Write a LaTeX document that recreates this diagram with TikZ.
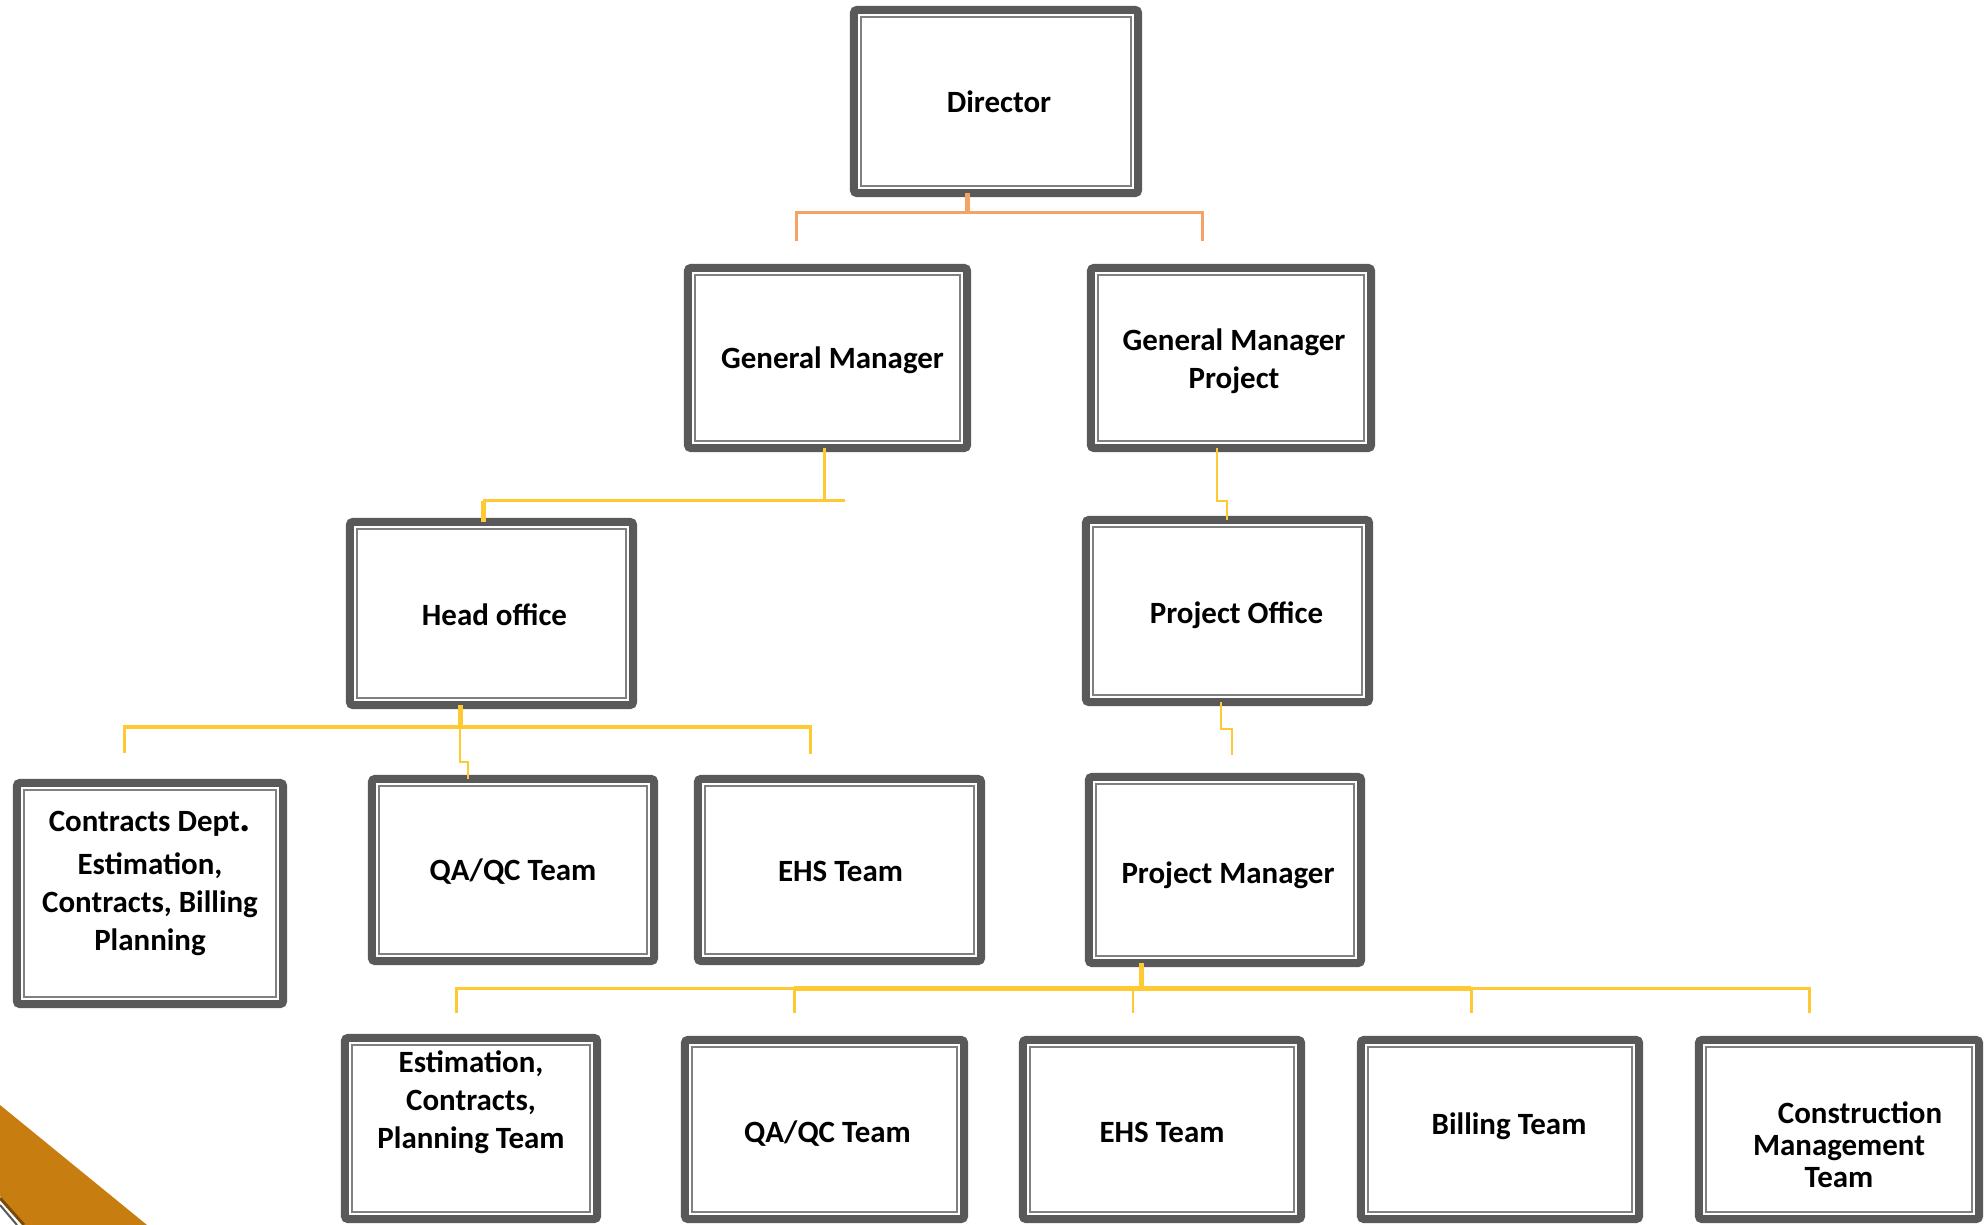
\documentclass[tikz,border=0pt]{standalone}
\usepackage{fontspec}
\setmainfont{Carlito}
\definecolor{boxgray}{HTML}{595959}
\definecolor{innergray}{HTML}{808080}
\definecolor{orangeln}{HTML}{F5A266}
\definecolor{yellowln}{HTML}{FFC933}
\definecolor{brownfill}{HTML}{C87D10}
\definecolor{darkbrown}{HTML}{7A4A08}
\tikzset{
  orgbox/.style={rectangle, draw=boxgray, line width=0.8mm, fill=white,
    rounded corners=0.3mm, inner sep=0pt, outer sep=0pt,
    path picture={\draw[innergray, line width=0.2mm, sharp corners]
      ([shift={(0.7mm,-0.7mm)}]path picture bounding box.north west) rectangle
      ([shift={(-0.7mm,0.7mm)}]path picture bounding box.south east);}},
  orgtext/.style={font=\bfseries\fontsize{8.8pt}{10.8pt}\selectfont, align=center, inner sep=0pt},
  yl/.style={draw=yellowln, line width=0.3mm},
  ol/.style={draw=orangeln, line width=0.3mm},
}
\newcommand{\OB}[8]{%
  \node[orgbox, minimum width={(#3-#2-8)*0.1mm}, minimum height={(#5-#4-8)*0.1mm}]
    (#1) at ({(#2+#3)/2},{(#4+#5)/2}) {};
  \node[orgtext] (#1t) at ([shift={(#6,#7)}]#1.center) {#8};}
\begin{document}
\begin{tikzpicture}[x=0.01cm,y=-0.01cm]
\fill[white] (0,0) rectangle (1985,1225);
\useasboundingbox (0,0) rectangle (1985,1225);

% corner decoration
\fill[brownfill] (0,1105) -- (147,1225) -- (25,1225) -- (0,1196) -- cycle;
\draw[darkbrown, line width=0.3mm] (0,1198) -- (24,1225);
\draw[boxgray, line width=0.2mm] (0,1205) -- (17,1225);

% boxes
\OB{dir}{850}{1142}{6}{197}{3}{0}{Director}
\OB{gm}{684}{971}{264}{452}{5}{2}{General Manager}
\OB{gmp}{1087}{1375}{264}{452}{3}{3}{General Manager\\Project}
\OB{ho}{346}{637}{518}{709}{3}{1}{Head office}
\OB{po}{1082}{1373}{516}{706}{9}{4}{Project Office}
\OB{cd}{13}{287}{779}{1008}{0}{-10}{Contracts Dept{\fontsize{12pt}{12pt}\selectfont .}\\[1.4pt]Estimation,\\Contracts, Billing\\Planning}
\OB{qa1}{368}{658}{775}{965}{0}{2}{QA/QC Team}
\OB{ehs1}{694}{985}{775}{965}{1}{1}{EHS Team}
\OB{pm}{1085}{1365}{773}{967}{3}{5}{Project Manager}
\OB{b1}{341}{601}{1034}{1223}{0}{-26}{Estimation,\\Contracts,\\Planning Team}
\OB{b2}{681}{968}{1036}{1223}{3}{4}{QA/QC Team}
\OB{b3}{1019}{1305}{1036}{1223}{0}{3}{EHS Team}
\OB{b4}{1357}{1643}{1036}{1223}{9}{-3}{Billing Team}
\OB{b5}{1695}{1983}{1036}{1223}{0}{15}{\hspace*{4.2mm}Construction\\[-1.7pt]Management\\[-1.7pt]Team}

% Director -> General managers
\coordinate (oj) at (967,213);
\coordinate (gmdrop) at (796,241);
\coordinate (gmpdrop) at (1202,241);
\draw[ol, line width=0.5mm] (dir.south -| oj) -- (oj);
\draw[ol] (gmdrop) |- (oj) -| (gmpdrop);

% GM -> Head office
\coordinate (gmj) at (824,501);
\coordinate (gmend) at (845,501);
\coordinate (hoj) at (483,501);
\draw[yl] (gm.south -| gmj) -- (gmj);
\draw[yl] (gmend) -- (hoj);
\draw[yl, line width=0.5mm] (hoj) -- (ho.north -| hoj);

% GMP -> Project office
\coordinate (g1) at (1217,501);
\coordinate (g2) at (1227,501);
\draw[yl, line width=0.25mm] (gmp.south -| g1) -- (g1) -- (g2) -- (po.north -| g2);

% Project office -> Project manager
\coordinate (p1) at (1221,729);
\coordinate (p2) at (1232,729);
\coordinate (pmend) at (1232,755);
\draw[yl, line width=0.25mm] (po.south -| p1) -- (p1) -- (p2) -- (pmend);

% Head office -> teams
\coordinate (hj) at (460,727);
\coordinate (cdrop) at (124,753);
\coordinate (edrop) at (810,754);
\coordinate (q1) at (460,762);
\coordinate (q2) at (468,762);
\draw[yl, line width=0.5mm] (ho.south -| hj) -- (hj);
\draw[yl] (cdrop) |- (hj) -| (edrop);
\draw[yl, line width=0.2mm] (hj) -- (q1) -- (q2) -- (qa1.north -| q2);

% Project manager -> teams
\coordinate (pj) at (1141,988);
\coordinate (d1) at (456,1013);
\coordinate (d2) at (794,1013);
\coordinate (d3) at (1133,1013);
\coordinate (d4) at (1471,1013);
\coordinate (d5) at (1809,1013);
\coordinate (t2) at (794,988);
\coordinate (t3) at (1133,988);
\coordinate (t4) at (1471,988);
\draw[yl, line width=0.5mm] (pm.south -| pj) -- (pj);
\draw[yl] (d1) |- (pj) -| (d5);
\draw[yl, line width=0.5mm] (t2) -- (t4);
\draw[yl] (t2) -- (d2);
\draw[yl, line width=0.15mm] (t3) -- (d3);
\draw[yl] (t4) -- (d4);
\end{tikzpicture}
\end{document}
